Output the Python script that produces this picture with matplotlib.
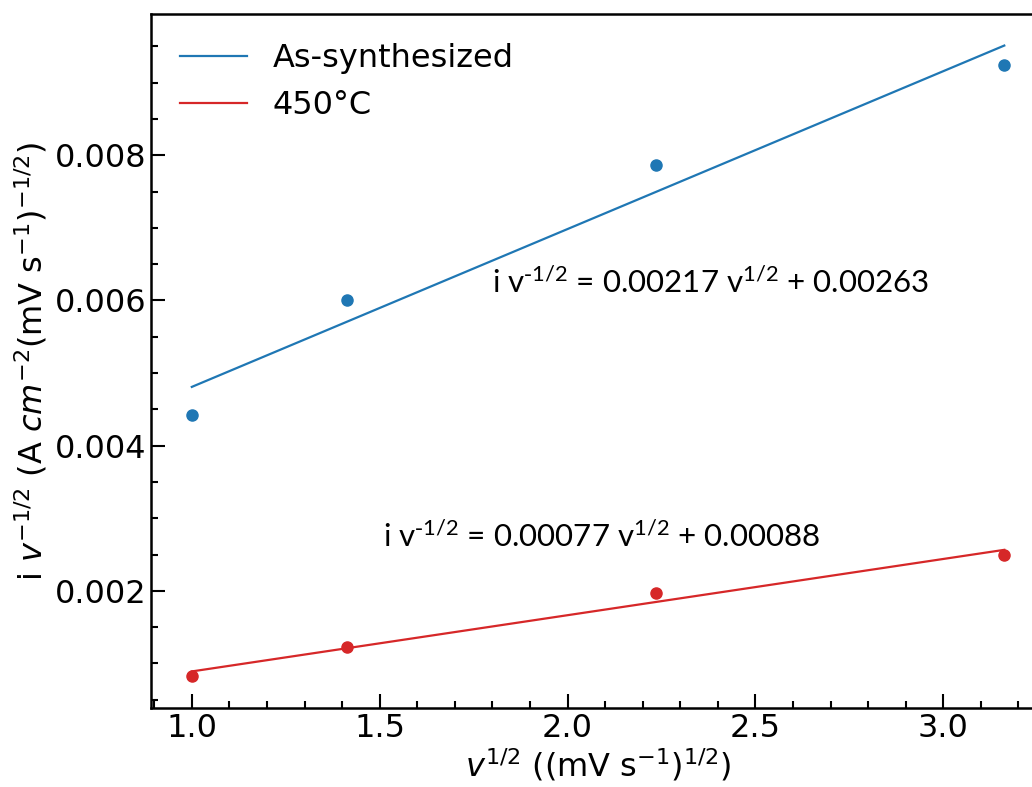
import numpy as np
import matplotlib
matplotlib.use("Agg")
import matplotlib.pyplot as plt
from matplotlib.ticker import MultipleLocator

plt.rcParams['font.size'] = 23

# sqrt of scan rate (1, 2, 5, 10 mV/s)
sqrt_v = np.sqrt([1, 2, 5, 10])
as_synth = [0.00442, 0.00600, 0.00786, 0.00925]
t450 = [0.00082, 0.00123, 0.00197, 0.00249]

eq_as = r'i v$^{\mathregular{\text{-}1/2}}$ = 0.00217 v$^{\mathregular{1/2}}$ + 0.00263'
eq_450 = r'i v$^{\mathregular{\text{-}1/2}}$ = 0.00077 v$^{\mathregular{1/2}}$ + 0.00088'

blue = '#1f77b4'
red = '#d62728'

fig = plt.figure(figsize=(10.32, 7.87), dpi=100)
ax = fig.add_axes([0.1465, 0.1004, 0.866, 0.8818])

# linear fits
p1 = np.polyfit(sqrt_v, as_synth, 1)
p2 = np.polyfit(sqrt_v, t450, 1)
ax.plot(sqrt_v, np.polyval(p1, sqrt_v), color=blue, lw=1.6, label='As-synthesized')
ax.plot(sqrt_v, np.polyval(p2, sqrt_v), color=red, lw=1.6, label='450°C')
ax.plot(sqrt_v, as_synth, 'o', color=blue, ms=8)
ax.plot(sqrt_v, t450, 'o', color=red, ms=8)

ax.text(1.80, 0.00625, eq_as, family='Lato', fontsize=22.5, va='center')
ax.text(1.51, 0.00276, eq_450, family='Lato', fontsize=22.5, va='center')

ax.xaxis.set_major_locator(MultipleLocator(0.5))
ax.xaxis.set_minor_locator(MultipleLocator(0.1))
ax.yaxis.set_major_locator(MultipleLocator(0.002))
ax.yaxis.set_minor_locator(MultipleLocator(0.0005))
ax.tick_params(which='both', direction='in', width=1.5)
ax.tick_params(which='major', length=10)
ax.tick_params(which='minor', length=5)
for s in ax.spines.values():
    s.set_linewidth(1.8)

ax.set_xlabel(r'$v^{1/2}$ ((mV s$^{-1}$)$^{1/2}$)', labelpad=2)
ax.set_ylabel(r'i $v^{-1/2}$ (A $cm^{-2}$(mV s$^{-1}$)$^{-1/2}$)', labelpad=4)
ax.legend(loc='upper left', frameon=False, fontsize=23, handlelength=2.1)

fig.savefig('out.png', dpi=100)
